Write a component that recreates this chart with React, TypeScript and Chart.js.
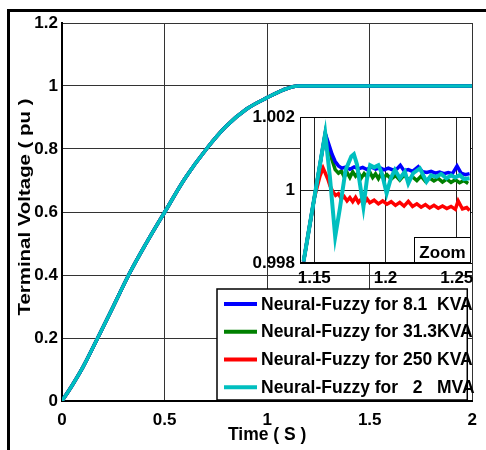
import React, { useEffect, useRef } from 'react';
import { Chart, registerables } from 'chart.js';

Chart.register(...registerables);

const FONT = "'Liberation Sans', Arial, sans-serif";

const seriesLabels = [
  'Neural-Fuzzy for 8.1  KVA',
  'Neural-Fuzzy for 31.3KVA',
  'Neural-Fuzzy for 250 KVA',
  'Neural-Fuzzy for   2   MVA',
];
const seriesColors = ['#0000ff', '#008000', '#ff0000', '#00bfbf'];
const yTitle = 'Terminal Voltage ( pu )';
const xTitle = 'Time ( S )';

// main plot (all four responses coincide at this scale)
const mainTime = [0, 0.05, 0.1, 0.174, 0.25, 0.325, 0.41, 0.501, 0.6, 0.704, 0.8, 0.9, 1.0, 1.08, 1.15, 1.5, 2.0];
const mainVoltage = [0, 0.05, 0.105, 0.2, 0.3, 0.4, 0.5, 0.6, 0.707, 0.8, 0.872, 0.927, 0.963, 0.988, 1.0, 1.0, 1.0];

const mainXTicks = [0, 0.5, 1, 1.5, 2];
const mainYTicks = [0, 0.2, 0.4, 0.6, 0.8, 1, 1.2];
const zoomXTicks = [1.15, 1.2, 1.25];
const zoomYTicks = [0.998, 1, 1.002];

// zoom inset, 8.1 KVA
const zoomTimeA = [1.1425, 1.15, 1.1577, 1.16, 1.1625, 1.1647, 1.167, 1.1694, 1.172, 1.175, 1.178, 1.181, 1.184, 1.187, 1.19, 1.193, 1.196, 1.199, 1.202, 1.205, 1.208, 1.2104, 1.213, 1.216, 1.219, 1.223, 1.226, 1.229, 1.232, 1.235, 1.238, 1.241, 1.244, 1.247, 1.2502, 1.253, 1.256, 1.259];
const zoomVoltA = [0.99804, 0.99977, 1.00155, 1.00128, 1.00098, 1.00078, 1.00066, 1.0006, 1.00063, 1.00057, 1.00063, 1.00058, 1.00062, 1.00056, 1.00063, 1.00057, 1.00061, 1.00055, 1.0006, 1.00055, 1.00058, 1.00068, 1.00053, 1.00056, 1.00051, 1.00064, 1.0005, 1.00048, 1.00051, 1.00046, 1.00049, 1.00045, 1.00048, 1.00045, 1.00066, 1.00046, 1.00042, 1.00045];

// zoom inset, 31.3 KVA
const zoomTimeB = [1.1425, 1.15, 1.1577, 1.16, 1.1625, 1.1647, 1.167, 1.169, 1.171, 1.173, 1.175, 1.177, 1.179, 1.181, 1.183, 1.185, 1.187, 1.189, 1.191, 1.193, 1.195, 1.197, 1.199, 1.201, 1.204, 1.207, 1.21, 1.213, 1.216, 1.219, 1.222, 1.225, 1.228, 1.231, 1.234, 1.237, 1.24, 1.243, 1.246, 1.249, 1.252, 1.255, 1.258];
const zoomVoltB = [0.99804, 0.99977, 1.00155, 1.00118, 1.00082, 1.00056, 1.00046, 1.00052, 1.00036, 1.00048, 1.00034, 1.0005, 1.00038, 1.00047, 1.00033, 1.00045, 1.00036, 1.00049, 1.00034, 1.00044, 1.00031, 1.00046, 1.00035, 1.00042, 1.0003, 1.0004, 1.00027, 1.00041, 1.00029, 1.00036, 1.00026, 1.00038, 1.00024, 1.00033, 1.00025, 1.00032, 1.00022, 1.0003, 1.00021, 1.00028, 1.0002, 1.00026, 1.00018];

// zoom inset, 250 KVA
const zoomTimeC = [1.1425, 1.15, 1.154, 1.1562, 1.1578, 1.1595, 1.1612, 1.163, 1.165, 1.167, 1.169, 1.171, 1.173, 1.175, 1.177, 1.179, 1.181, 1.183, 1.185, 1.187, 1.189, 1.192, 1.195, 1.198, 1.201, 1.204, 1.207, 1.21, 1.213, 1.216, 1.219, 1.222, 1.225, 1.228, 1.231, 1.234, 1.237, 1.24, 1.243, 1.246, 1.249, 1.251, 1.254, 1.257, 1.259];
const zoomVoltC = [0.99804, 0.99977, 1.00038, 1.0006, 1.00046, 1.0003, 1.0001, 0.99996, 0.99985, 0.9999, 0.99976, 0.99982, 0.9997, 0.99979, 0.99968, 0.9998, 0.99966, 0.99975, 0.99964, 0.99976, 0.99965, 0.99972, 0.99962, 0.9997, 0.99961, 0.99968, 0.99958, 0.99966, 0.99956, 0.99969, 0.99955, 0.99962, 0.99953, 0.9996, 0.99951, 0.99958, 0.9995, 0.99956, 0.99949, 0.99955, 0.99947, 0.9997, 0.99948, 0.99952, 0.99944];

// zoom inset, 2 MVA
const zoomTimeD = [1.1425, 1.15, 1.1577, 1.161, 1.1647, 1.168, 1.172, 1.176, 1.1778, 1.18, 1.1845, 1.187, 1.1892, 1.192, 1.195, 1.1975, 1.2008, 1.204, 1.2066, 1.2101, 1.2136, 1.216, 1.2194, 1.2241, 1.2288, 1.232, 1.2358, 1.239, 1.2428, 1.246, 1.249, 1.2521, 1.255, 1.259];
const zoomVoltD = [0.99804, 0.99977, 1.00155, 1.00035, 0.99872, 0.9995, 1.00055, 1.00092, 1.00098, 1.0007, 0.99954, 1.0003, 1.00068, 1.00062, 1.00068, 1.00045, 0.99991, 1.00035, 1.00055, 1.00032, 1.0005, 1.00018, 1.00046, 1.00059, 1.00023, 1.0004, 1.00036, 1.00044, 1.00032, 1.0004, 1.00034, 1.00041, 1.0003, 1.00032];

const zoomTimes = [zoomTimeA, zoomTimeB, zoomTimeC, zoomTimeD];
const zoomVolts = [zoomVoltA, zoomVoltB, zoomVoltC, zoomVoltD];
const drawOrder = [1, 2, 3, 0]; // cyan on top

const toPoints = (xs: number[], ys: number[]) => xs.map((x, i) => ({ x, y: ys[i] }));

const legendPlugin = {
  id: 'boxLegend',
  afterDraw(chart: any) {
    const { ctx, chartArea } = chart;
    const right = chartArea.right - 5;
    const bottom = chartArea.bottom - 1;
    const left = 217;
    const top = 289;
    ctx.save();
    ctx.fillStyle = '#fff';
    ctx.fillRect(left, top, right - left, bottom - top);
    ctx.strokeStyle = '#000';
    ctx.lineWidth = 1.5;
    ctx.strokeRect(left, top, right - left, bottom - top);
    const rowH = (bottom - top) / 4;
    ctx.font = `bold 17.5px ${FONT}`;
    ctx.textBaseline = 'middle';
    ctx.textAlign = 'left';
    seriesLabels.forEach((label, i) => {
      const y = top + rowH * (i + 0.5) + 1;
      ctx.strokeStyle = seriesColors[i];
      ctx.lineWidth = 4;
      ctx.beginPath();
      ctx.moveTo(224, y);
      ctx.lineTo(257, y);
      ctx.stroke();
      ctx.fillStyle = '#000';
      ctx.fillText(label, 261, y + 1);
    });

    // y-axis title, stretched along its length like the reference
    ctx.save();
    ctx.translate(25, (chartArea.top + chartArea.bottom) / 2 - 5);
    ctx.rotate(-Math.PI / 2);
    ctx.font = `bold 17px ${FONT}`;
    const w = ctx.measureText(yTitle).width;
    ctx.scale(217 / w, 1);
    ctx.textAlign = 'center';
    ctx.textBaseline = 'middle';
    ctx.fillStyle = '#000';
    ctx.fillText(yTitle, 0, 0);
    ctx.restore();

    ctx.restore();
  },
};

const insetPlugin = {
  id: 'insetFrame',
  beforeDraw(chart: any) {
    const { ctx, chartArea } = chart;
    ctx.save();
    ctx.fillStyle = '#fff';
    ctx.fillRect(chartArea.left, chartArea.top, chartArea.right - chartArea.left, chartArea.bottom - chartArea.top);
    ctx.restore();
  },
  afterDraw(chart: any) {
    const { ctx, chartArea } = chart;
    ctx.save();
    ctx.strokeStyle = '#000';
    ctx.lineWidth = 1;
    ctx.strokeRect(chartArea.left + 0.5, chartArea.top + 0.5, chartArea.right - chartArea.left - 1, chartArea.bottom - chartArea.top - 1);
    const bw = 57;
    const bh = 26;
    const bx = chartArea.right - bw;
    const by = chartArea.bottom - bh;
    ctx.fillStyle = '#fff';
    ctx.fillRect(bx, by, bw, bh);
    ctx.strokeRect(bx + 0.5, by + 0.5, bw - 1, bh - 1);
    ctx.fillStyle = '#000';
    ctx.font = `bold 17px ${FONT}`;
    ctx.textAlign = 'center';
    ctx.textBaseline = 'middle';
    ctx.fillText('Zoom', bx + bw / 2, by + bh / 2 + 3);
    ctx.restore();
  },
};

export default function App() {
  const mainRef = useRef<HTMLCanvasElement>(null);
  const zoomRef = useRef<HTMLCanvasElement>(null);

  useEffect(() => {
    const tickFont = { family: FONT, size: 17, weight: 'bold' as const };
    const mainChart = new Chart(mainRef.current!, {
      type: 'line',
      data: {
        datasets: seriesLabels.map((label, i) => ({
          label,
          data: toPoints(mainTime, mainVoltage),
          borderColor: seriesColors[i],
          backgroundColor: seriesColors[i],
          borderWidth: 3.5,
          pointRadius: 0,
          fill: false,
          cubicInterpolationMode: 'monotone' as const,
          order: drawOrder[i],
        })),
      },
      options: {
        responsive: false,
        animation: false,
        layout: { padding: { top: 23, right: 6, left: 0, bottom: 0 } },
        plugins: { legend: { display: false }, tooltip: { enabled: false } },
        scales: {
          x: {
            type: 'linear',
            min: 0,
            max: 2,
            afterBuildTicks: (s: any) => { s.ticks = mainXTicks.map((v) => ({ value: v })); },
            afterFit: (s: any) => { s.height = 49; },
            grid: { color: '#333', lineWidth: 1, drawTicks: false },
            border: { display: true, color: '#000', width: 2 },
            ticks: { padding: 9, color: '#000', font: tickFont, maxRotation: 0, autoSkip: false, callback: (v: any) => String(v) },
            title: { display: true, text: xTitle, color: '#000', font: { family: FONT, size: 17.5, weight: 'bold' }, padding: { top: 0, bottom: 4 } },
          },
          y: {
            type: 'linear',
            min: 0,
            max: 1.2,
            afterBuildTicks: (s: any) => { s.ticks = mainYTicks.map((v) => ({ value: v })); },
            afterFit: (s: any) => { s.width = 62; },
            grid: { color: '#333', lineWidth: 1, drawTicks: false },
            border: { display: true, color: '#000', width: 2 },
            ticks: { padding: 4, color: '#000', font: tickFont, autoSkip: false, callback: (v: any) => String(v) },
          },
        },
      },
      plugins: [legendPlugin],
    });

    const zoomChart = new Chart(zoomRef.current!, {
      type: 'line',
      data: {
        datasets: seriesLabels.map((label, i) => ({
          label,
          data: toPoints(zoomTimes[i], zoomVolts[i]),
          borderColor: seriesColors[i],
          backgroundColor: seriesColors[i],
          borderWidth: i === 3 ? 4 : 3.5,
          pointRadius: 0,
          fill: false,
          tension: 0,
          order: drawOrder[i],
        })),
      },
      options: {
        responsive: false,
        animation: false,
        layout: { padding: { top: 17, right: 9, left: 0, bottom: 0 } },
        plugins: { legend: { display: false }, tooltip: { enabled: false } },
        scales: {
          x: {
            type: 'linear',
            min: 1.14,
            max: 1.26,
            afterBuildTicks: (s: any) => { s.ticks = zoomXTicks.map((v) => ({ value: v })); },
            afterFit: (s: any) => { s.height = 27; },
            grid: { color: '#222', lineWidth: 1, drawTicks: false },
            border: { display: true, color: '#000', width: 1 },
            ticks: { padding: 5, color: '#000', font: tickFont, maxRotation: 0, autoSkip: false, callback: (v: any) => String(v) },
          },
          y: {
            type: 'linear',
            min: 0.998,
            max: 1.002,
            afterBuildTicks: (s: any) => { s.ticks = zoomYTicks.map((v) => ({ value: v })); },
            afterFit: (s: any) => { s.width = 60; },
            grid: { color: '#222', lineWidth: 1, drawTicks: false },
            border: { display: true, color: '#000', width: 1 },
            ticks: { padding: 5, color: '#000', font: tickFont, autoSkip: false, callback: (v: any) => String(v) },
          },
        },
      },
      plugins: [insetPlugin],
    });

    return () => {
      mainChart.destroy();
      zoomChart.destroy();
    };
  }, []);

  return (
    <div style={{ position: 'absolute', left: 0, top: 0, width: 486, height: 450, overflow: 'hidden', background: '#fff' }}>
      <canvas ref={mainRef} width={486} height={450} style={{ position: 'absolute', left: 0, top: 0 }} />
      <canvas ref={zoomRef} width={240} height={190} style={{ position: 'absolute', left: 240, top: 100 }} />
      <div style={{ position: 'absolute', left: 7, top: 9, width: 520, height: 520, border: '3px solid #000', pointerEvents: 'none' }} />
    </div>
  );
}
